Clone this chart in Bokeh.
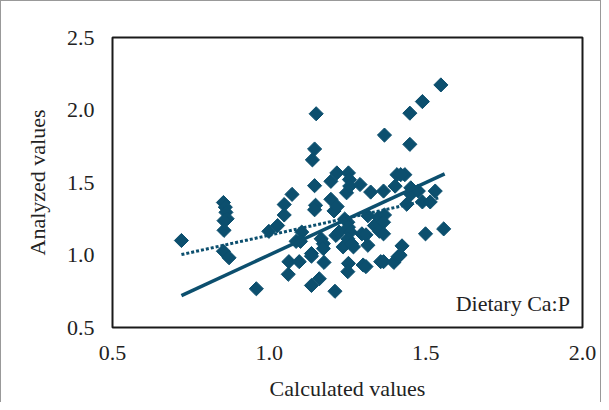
import math
from bokeh.plotting import figure
from bokeh.models import Range1d, Label, FixedTicker, ColumnDataSource, CustomJSTickFormatter
from bokeh.embed import file_html
from bokeh.resources import INLINE

calc = [0.72, 0.854, 0.86, 0.862, 0.866, 0.856, 0.856, 0.854, 0.872, 0.959,
        0.999, 1.027, 1.048, 1.048, 1.073, 1.063, 1.061, 1.096, 1.086, 1.104,
        1.100, 1.135, 1.135, 1.135, 1.160, 1.150, 1.145, 1.138, 1.145, 1.148,
        1.145, 1.166, 1.173, 1.173, 1.175, 1.197, 1.197, 1.207, 1.217, 1.216,
        1.210, 1.213, 1.223, 1.236, 1.241, 1.247, 1.253, 1.256, 1.257, 1.251,
        1.253, 1.259, 1.251, 1.253, 1.251, 1.269, 1.263, 1.290, 1.296, 1.300,
        1.309, 1.315, 1.309, 1.315, 1.324, 1.336, 1.349, 1.352, 1.365, 1.368,
        1.365, 1.368, 1.356, 1.365, 1.365, 1.398, 1.402, 1.411, 1.418, 1.408,
        1.433, 1.424, 1.439, 1.449, 1.449, 1.452, 1.452, 1.476, 1.489, 1.489,
        1.499, 1.514, 1.530, 1.557, 1.548, 1.420]
analyzed = [1.10, 1.362, 1.33, 1.294, 1.25, 1.237, 1.17, 1.026, 0.981, 0.767,
            1.163, 1.203, 1.276, 1.348, 1.418, 0.954, 0.867, 0.954, 1.094, 1.158,
            1.094, 1.010, 0.992, 0.790, 0.836, 1.974, 1.731, 1.656, 1.478, 1.343,
            1.312, 1.112, 1.078, 1.044, 0.949, 1.508, 1.384, 1.304, 1.334, 1.566,
            0.750, 1.135, 1.158, 1.056, 1.248, 1.429, 1.566, 1.520, 1.475, 1.226,
            1.192, 1.158, 1.112, 0.942, 0.885, 1.056, 1.078, 1.486, 1.146, 0.931,
            0.920, 1.271, 1.139, 1.067, 1.434, 1.203, 1.260, 1.164, 1.146, 1.276,
            1.441, 1.827, 0.954, 0.954, 1.226, 0.949, 1.475, 0.988, 0.999, 1.554,
            1.554, 1.063, 1.350, 1.763, 1.978, 1.463, 1.418, 1.441, 2.058, 1.366,
            1.146, 1.366, 1.441, 1.180, 2.173, 1.554]

# reference lines (end points)
identity_x = [0.72, 1.56]
identity_y = [0.72, 1.56]
fit_x = [0.72, 1.545]
fit_y = [1.003, 1.396]

x_ticks = [0.5, 1.0, 1.5, 2.0]
y_ticks = [0.5, 1.0, 1.5, 2.0, 2.5]

COLOR = "#0c4f6e"
FONT = "Liberation Serif"

p = figure(width=601, height=402, output_backend="svg", toolbar_location=None,
           x_range=Range1d(0.5, 2.0), y_range=Range1d(0.5, 2.5),
           min_border_left=111, min_border_right=20, min_border_top=36,
           min_border_bottom=72)
p.styles = {"border-left": "1px solid #999", "border-top": "1px solid #999",
            "border-right": "1px solid #999"}
p.grid.visible = False
p.outline_line_color = "#1a1a1a"
p.outline_line_width = 2

for ax in (p.xaxis[0], p.yaxis[0]):
    ax.axis_line_color = None
    ax.major_tick_line_color = None
    ax.minor_tick_line_color = None
    ax.major_label_text_font = FONT
    ax.major_label_text_font_size = "22px"
    ax.major_label_text_color = "#222222"
    ax.axis_label_text_font = FONT
    ax.axis_label_text_font_size = "22px"
    ax.axis_label_text_font_style = "normal"
    ax.axis_label_text_color = "#222222"

p.xaxis.ticker = FixedTicker(ticks=x_ticks)
p.yaxis.ticker = FixedTicker(ticks=y_ticks)
p.xaxis.formatter = CustomJSTickFormatter(code="return tick.toFixed(1);")
p.yaxis.formatter = CustomJSTickFormatter(code="return tick.toFixed(1);")
p.xaxis.major_label_standoff = 12
p.yaxis.major_label_standoff = 12
p.xaxis.axis_label = "Calculated values"
p.yaxis.axis_label = "Analyzed values"
p.xaxis.axis_label_standoff = 13
p.yaxis.axis_label_standoff = 14

src = ColumnDataSource(dict(x=calc, y=analyzed))
p.scatter("x", "y", source=src, marker="square", size=10, angle=math.pi / 4,
          fill_color=COLOR, line_color=COLOR)
p.line(identity_x, identity_y, line_color=COLOR, line_width=3.5)
p.line(fit_x, fit_y, line_color=COLOR, line_width=3, line_dash="3 2")

p.add_layout(Label(x=1.96, y=0.58, text="Dietary Ca:P", text_align="right",
                   text_font=FONT, text_font_size="22px", text_color="#222222"))

open("out.html", "w").write(file_html(p, INLINE))
